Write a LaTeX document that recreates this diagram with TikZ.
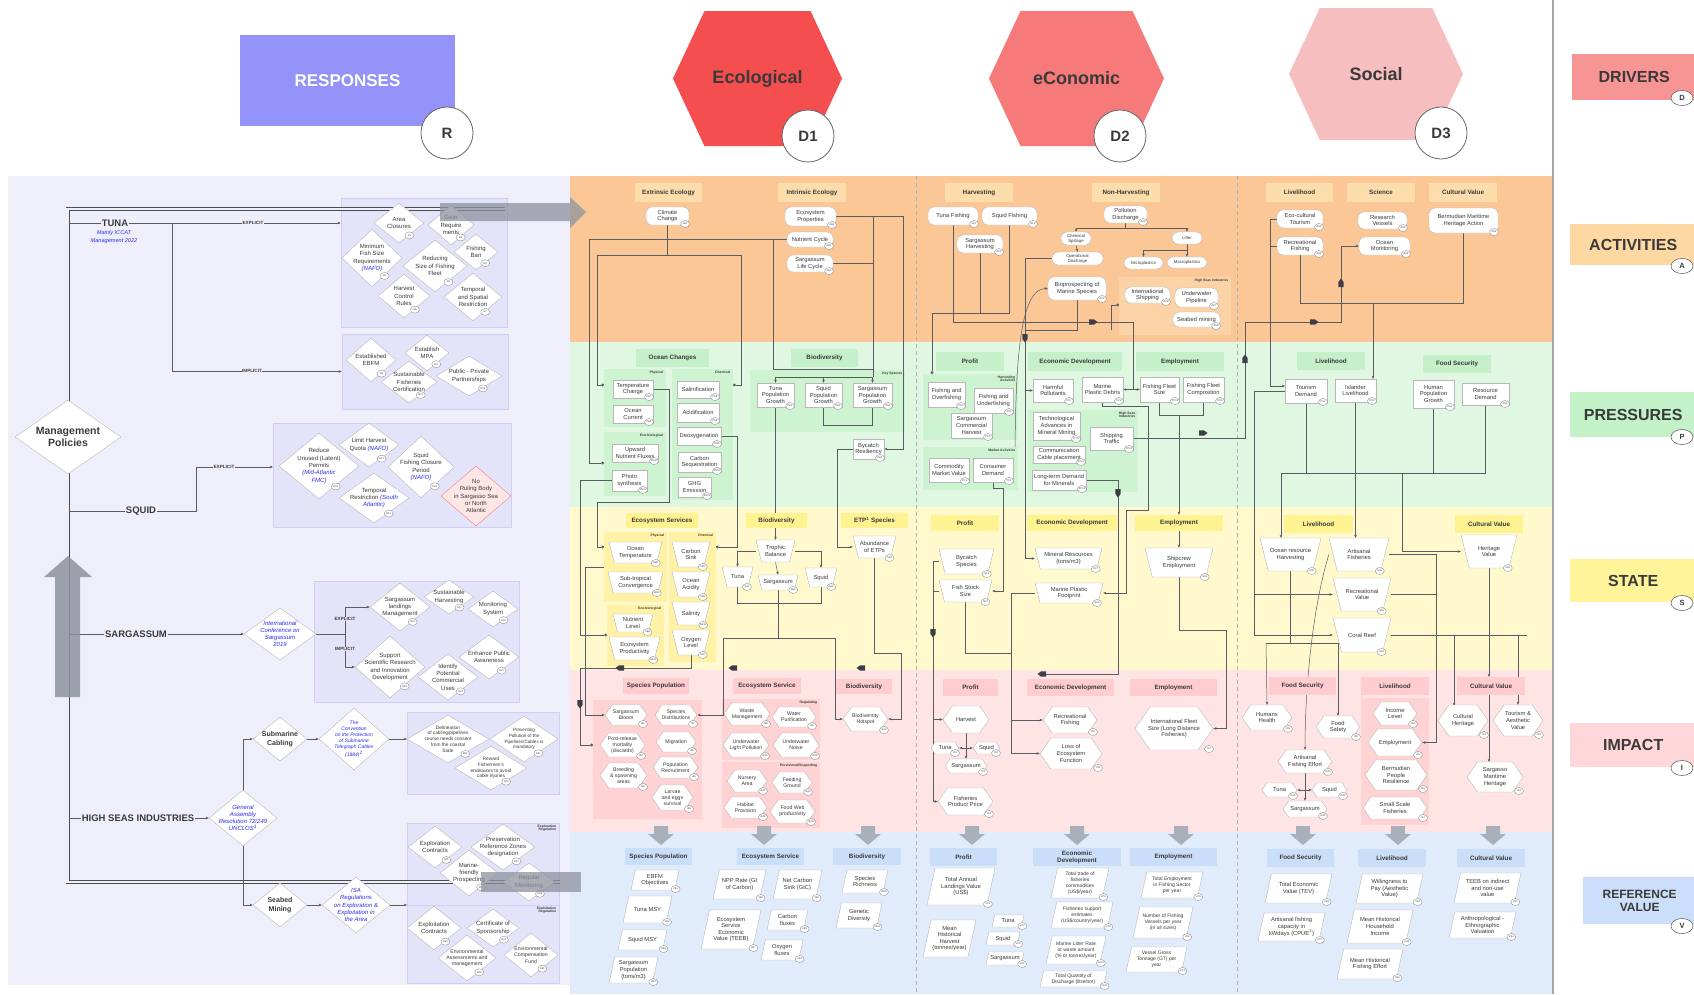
\documentclass[tikz,border=0pt]{standalone}
\usepackage{fontspec}
\setmainfont{Liberation Sans}
\usetikzlibrary{shapes.geometric,shapes.symbols,arrows.meta}
\pgfdeclarelayer{bg}
\pgfdeclarelayer{lines}
\pgfsetlayers{bg,lines,main}
\definecolor{tx}{HTML}{3A3A3A}
\definecolor{lineg}{HTML}{5A5C64}
\definecolor{busc}{HTML}{3C3F48}
\definecolor{bordc}{HTML}{B8B8B8}
\definecolor{tagc}{HTML}{8A8A8A}
\definecolor{blu}{HTML}{2B2BE8}
\definecolor{resp}{HTML}{9393F9}
\definecolor{ecohex}{HTML}{F44E4E}
\definecolor{conhex}{HTML}{F77A7A}
\definecolor{sochex}{HTML}{F6BEBE}
\definecolor{actband}{HTML}{FBC796}
\definecolor{acthdr}{HTML}{FDDDAB}
\definecolor{actgrp}{HTML}{FCD3A6}
\definecolor{preband}{HTML}{E0F8E1}
\definecolor{prehdr}{HTML}{C5F0C9}
\definecolor{pregrp}{HTML}{CDF3D0}
\definecolor{staband}{HTML}{FFF9CD}
\definecolor{stahdr}{HTML}{FFF290}
\definecolor{stagrp}{HTML}{FFF2A6}
\definecolor{impband}{HTML}{FFE4E5}
\definecolor{imphdr}{HTML}{FFCDCF}
\definecolor{impgrp}{HTML}{FFD2D3}
\definecolor{refband}{HTML}{E0ECFB}
\definecolor{refhdr}{HTML}{CADDF9}
\definecolor{lav}{HTML}{EFEFFC}
\definecolor{lavbox}{HTML}{E3E3FA}
\definecolor{lavbd}{HTML}{CFCFF2}
\definecolor{arrg}{HTML}{8E929E}
\definecolor{darrc}{HTML}{ABAFBA}
\definecolor{drvc}{HTML}{F79595}
\definecolor{actc}{HTML}{FDD8A2}
\definecolor{prec}{HTML}{C3F1C8}
\definecolor{stac}{HTML}{FFF49A}
\definecolor{impc}{HTML}{FFD6D9}
\definecolor{refc}{HTML}{CCDFFA}
\definecolor{pinkd}{HTML}{FFE6E6}
\definecolor{redd}{HTML}{F08080}
\tikzset{
 txt/.style={inner sep=0pt, align=center, font=\fontsize{5.8}{6.6}\selectfont, text=tx},
 tstyle/.style={},
 dtxt/.style={inner sep=0pt, align=center, font=\fontsize{6}{7.4}\selectfont, text=tx},
 tagst/.style={ellipse, draw=tagc, fill=white, line width=0.35pt, inner sep=0pt, minimum width=9pt, minimum height=7pt, font=\fontsize{2.5}{2.5}\selectfont, text=tx},
 pill/.style={rectangle, rounded corners=6pt, draw=bordc, fill=white, line width=0.4pt, inner sep=0pt},
 rbx/.style={rectangle, draw=bordc, fill=white, line width=0.4pt, inner sep=0pt},
 shpline/.style={draw=bordc, fill=white, line width=0.4pt},
 hexa/.style={signal, signal to=east and west, signal pointer angle=110, draw=bordc, fill=white, line width=0.4pt, inner sep=0pt},
 diam/.style={diamond, draw=bordc, fill=white, line width=0.4pt, inner sep=0pt},
 grp/.style={rectangle, inner sep=0pt},
 glab/.style={inner sep=0.5pt, align=right, font=\fontsize{3.4}{3.8}\selectfont\bfseries, text=tx},
 hdr/.style={rectangle, inner sep=0pt, align=center, font=\fontsize{6.3}{7}\selectfont\bfseries, text=tx},
 ln/.style={draw=lineg, line width=0.5pt},
 ar/.style={draw=lineg, line width=0.5pt, -{Stealth[length=3.2pt,width=2.6pt]}},
 dotar/.style={draw=lineg, line width=0.5pt, -{Circle[length=2.8pt]}},
 bluet/.style={text=blu, font=\fontsize{6}{7.2}\selectfont\itshape},
 boldt/.style={font=\fontsize{7}{8.4}\selectfont\bfseries},
 lbl/.style={fill=lav, inner sep=1pt, font=\fontsize{9.5}{10}\selectfont\bfseries, text=tx},
 xl/.style={fill=lav, inner sep=0.6pt, font=\fontsize{4.6}{5}\selectfont\bfseries, text=tx},
 bigc/.style={circle, draw=gray!80!black, fill=white, line width=0.8pt, minimum size=52pt, inner sep=0pt, font=\fontsize{15}{15}\selectfont\bfseries, text=tx},
 rlab/.style={rectangle, inner sep=0pt, anchor=west, font=\fontsize{16}{17}\selectfont\bfseries, text=tx},
 rc/.style={ellipse, draw=gray!80!black, fill=white, line width=0.6pt, minimum width=22pt, minimum height=15pt, inner sep=0pt, font=\fontsize{7.5}{7.5}\selectfont\bfseries, text=tx},
 trunk/.style={draw=gray!60!black, line width=0.8pt, double=lav, double distance=2.4pt},
 hexhead/.style={signal, signal to=east and west, signal pointer angle=130, inner sep=0pt, font=\fontsize{18}{18}\selectfont\bfseries, text=tx}
}
\newcommand\mkshp[8][rbx]{%
 \node[#1,minimum width={#5-#3},minimum height={#6-#4}] (#2) at ({(#3+#5)/2},{(#4+#6)/2}) {};
 \node[txt,tstyle] (#2x) at (#2.center) {#7};
 \if\relax\detokenize{#8}\relax\else\node[tagst] (#2t) at ({#5-4},{#6-1}) {#8};\fi}
\newcommand\mktrap[7]{%
 \path[shpline] (#2,#3) -- (#4,#3) -- ({#4-0.25*(#5-#3)},#5) -- ({#2+0.25*(#5-#3)},#5) -- cycle;
 \node[inner sep=0pt,minimum width={#4-#2},minimum height={#5-#3}] (#1) at ({(#2+#4)/2},{(#3+#5)/2}) {};
 \node[txt,tstyle] (#1x) at (#1.center) {#6};
 \if\relax\detokenize{#7}\relax\else\node[tagst] (#1t) at ({#4-0.25*(#5-#3)-1},#5) {#7};\fi}
\newcommand\mkpara[7]{%
 \path[shpline] ({#2+0.22*(#5-#3)},#3) -- (#4,#3) -- ({#4-0.22*(#5-#3)},#5) -- (#2,#5) -- cycle;
 \node[inner sep=0pt,minimum width={#4-#2},minimum height={#5-#3}] (#1) at ({(#2+#4)/2},{(#3+#5)/2}) {};
 \node[txt,tstyle] (#1x) at (#1.center) {#6};
 \if\relax\detokenize{#7}\relax\else\node[tagst] (#1t) at ({#4-0.22*(#5-#3)+1},{#5-1}) {#7};\fi}
\newcommand\mkhdr[7][acthdr]{%
 \node[hdr,fill=#1,minimum width={#5-#3},minimum height={#6-#4}] (#2) at ({(#3+#5)/2},{(#4+#6)/2}) {#7};}
\newcommand\mkgrp[7][pregrp]{%
 \node[grp,fill=#1,minimum width={#5-#3},minimum height={#6-#4}] (#2) at ({(#3+#5)/2},{(#4+#6)/2}) {};
 \node[glab,anchor=north east] (#2l) at ({#5-2},{#4+1}) {#7};}
\newcommand\mkdia[8][]{%
 \node[diam,minimum width={2*(#5)},minimum height={2*(#6)}] (#2) at (#3,#4) {};
 \node[dtxt,#1] (#2x) at (#2.center) {#7};
 \if\relax\detokenize{#8}\relax\else\node[tagst] (#2t) at ({#3+0.42*#5},{#4+0.62*#6}) {#8};\fi}
\newcommand\mkdarr[1]{%
 \fill[darrc] ({#1-7},826) -- ({#1+7},826) -- ({#1+7},834) -- ({#1+13},834) -- (#1,845) -- ({#1-13},834) -- ({#1-7},834) -- cycle;}
% small dark arrow-shaped markers on connectors: x, y, direction angle (0 right, 90 up, 180 left, -90 down)
\newcommand\mkbus[3]{%
 \fill[busc, rotate around={#3:(#1,#2)}] ({#1-4},{#2-2.6}) -- ({#1+1},{#2-2.6}) -- ({#1+4.5},#2) -- ({#1+1},{#2+2.6}) -- ({#1-4},{#2+2.6}) -- cycle;}
\begin{document}
\begin{tikzpicture}[x=1pt,y=-1pt]
\useasboundingbox (0,0) rectangle (1694,994);
\begin{pgfonlayer}{bg}
\fill[white] (0,0) rectangle (1694,994);
\fill[lav] (8,176) rectangle (570,985);
\fill[actband] (570,176) rectangle (1553,342);
\fill[preband] (570,342) rectangle (1553,507);
\fill[staband] (570,507) rectangle (1553,670);
\fill[impband] (570,670) rectangle (1553,832);
\fill[refband] (570,832) rectangle (1553,994);
\draw[gray!60, dash pattern=on 4pt off 3pt, line width=0.5pt] (916,176) -- (916,994);
\draw[gray!60, dash pattern=on 4pt off 3pt, line width=0.5pt] (1237,176) -- (1237,994);
\draw[gray!70, line width=1.3pt] (1553,0) -- (1553,994);
\mkgrp{gPh}{604}{369}{666}{427}{Physical}
\mkgrp{gCh}{672}{369}{733}{500}{Chemical}
\mkgrp{gEb}{604}{432}{666}{496}{Eco-biological}
\mkgrp{gKS}{750}{370}{905}{432}{Key Species}
\mkgrp[stagrp]{gPh2}{604}{532}{667}{602}{Physical}
\mkgrp[stagrp]{gCh2}{669}{532}{716}{662}{Chemical}
\mkgrp[stagrp]{gEb2}{607}{605}{664}{666}{Eco-biological}
\mkgrp[impgrp]{gSP}{593}{700}{702}{819}{}
\mkgrp[impgrp]{gReg}{722}{699}{820}{760}{Regulating}
\mkgrp[impgrp]{gPS}{722}{762}{820}{828}{Provisional/Supporting}
\mkgrp[actgrp]{gHSI}{1119}{277}{1231}{335}{High Seas Industries}
\mkgrp{gHA}{923}{374}{1018}{440}{Harvesting\\Activities}
\mkgrp{gMA}{923}{447}{1018}{490}{Market Activities}
\mkgrp{gHS2}{1028}{410}{1138}{492}{High Seas\\Industries}
\mkgrp[impgrp]{gLi}{1361}{698}{1429}{825}{}
\begin{scope}[grp/.append style={draw=lavbd, line width=0.5pt}]
\mkgrp[lavbox]{gTE}{341}{198}{507}{327}{}
\mkgrp[lavbox]{gTI}{342}{334}{508}{409}{}
\mkgrp[lavbox]{gSq}{273}{423}{511}{527}{}
\mkgrp[lavbox]{gSa}{314}{581}{519}{702}{}
\mkgrp[lavbox]{gSC}{407}{712}{559}{794}{}
\mkgrp[lavbox]{gEx}{407}{823}{559}{905}{Exploration\\Regulation}
\mkgrp[lavbox]{gEt}{407}{905}{559}{983}{Exploitation\\Regulation}
\end{scope}
\end{pgfonlayer}

% ===== header =====
\node[fill=resp, minimum width=215pt, minimum height=91pt, inner sep=0pt, font=\fontsize{17}{17}\selectfont\bfseries, text=white] (respbox) at (347.5,80.5) {RESPONSES};
\node[bigc] (rcirc) at (447,133) {R};
\node[hexhead, fill=ecohex, minimum width=169pt, minimum height=135pt] (hexE) at (757.5,78.5) {Ecological};
\node[bigc] (d1) at (808,136) {D1};
\node[hexhead, fill=conhex, minimum width=175pt, minimum height=135pt] (hexC) at (1076.5,78.5) {eConomic};
\node[bigc] (d2) at (1120,136) {D2};
\node[hexhead, fill=sochex, minimum width=174pt, minimum height=132pt] (hexS) at (1376,74) {Social};
\node[bigc] (d3) at (1441,133) {D3};

% ===== right labels =====
\node[rlab, fill=drvc, minimum width=124pt, minimum height=46pt] (lD) at (1572,77) {DRIVERS};
\node[rc] (lDc) at (1682,98) {D};
\node[rlab, fill=actc, minimum width=126pt, minimum height=41pt] (lA) at (1570,244.5) {ACTIVITIES};
\node[rc] (lAc) at (1682,266) {A};
\node[rlab, fill=prec, minimum width=126pt, minimum height=45pt] (lP) at (1570,414.5) {PRESSURES};
\node[rc] (lPc) at (1682,437) {P};
\node[rlab, fill=stac, minimum width=126pt, minimum height=43pt] (lS) at (1570,580.5) {STATE};
\node[rc] (lSc) at (1682,603) {S};
\node[rlab, fill=impc, minimum width=126pt, minimum height=44pt] (lI) at (1570,745) {IMPACT};
\node[rc] (lIc) at (1682,768) {I};
\node[rlab, fill=refc, minimum width=113pt, minimum height=47pt, align=center, font=\fontsize{12}{13}\selectfont\bfseries] (lV) at (1583,900.5) {REFERENCE\\VALUE};
\node[rc] (lVc) at (1682,926) {V};

% ===== ECOLOGICAL =====
\mkhdr{hEE}{635}{183}{702}{202}{Extrinsic Ecology}
\mkhdr{hIE}{778}{183}{846}{202}{Intrinsic Ecology}
\mkshp[pill]{ae1}{646}{207}{689}{225}{Climate\\Change}{AE1}
\mkshp[pill]{ae2}{785}{207}{836}{226}{Ecosystem\\Properties}{AE2}
\mkshp[pill]{ae3}{787}{232}{833}{247}{Nutrient Cycle}{AE3}
\mkshp[pill]{ae4}{787}{255}{833}{272}{Sargassum\\Life Cycle}{AE4}

\mkhdr[prehdr]{hOC}{636}{349}{709}{367}{Ocean Changes}
\mkhdr[prehdr]{hBD}{791}{349}{858}{367}{Biodiversity}
\mkshp{pe7}{613}{380}{653}{398}{Temperature\\Change}{PE7}
\mkshp{pe9}{613}{405}{653}{423}{Ocean\\Current}{PE9}
\mkshp{pe10}{612}{444}{658}{462}{Upward\\Nutrient Fluxes}{PE10}
\mkshp{pe11}{612}{470}{647}{491}{Photo\\synthesis}{PE11}
\mkshp{pe8}{677}{381}{719}{398}{Salinification}{PE8}
\mkshp{pe6}{677}{403}{719}{422}{Acidification}{PE6}
\mkshp{pe5}{677}{427}{721}{445}{Deoxygenation}{PE5}
\mkshp{pe12}{678}{452}{721}{472}{Carbon\\Sequestration}{PE12}
\mkshp{pe13}{678}{477}{711}{497}{GHG\\Emission}{PE13}
\mkshp{pe1}{757}{383}{794}{407}{Tuna\\Population\\Growth}{PE1}
\mkshp{pe2}{805}{383}{842}{407}{Squid\\Population\\Growth}{PE2}
\mkshp{pe3}{853}{383}{892}{407}{Sargassum\\Population\\Growth}{PE3}
\mkshp{pe4}{853}{439}{884}{459}{Bycatch\\Resiliency}{PE4}

\mkhdr[stahdr]{hES}{626}{513}{698}{528}{Ecosystem Services}
\mkhdr[stahdr]{hBD2}{746}{513}{807}{528}{Biodiversity}
\mkhdr[stahdr]{hETP}{841}{513}{908}{528}{ETP\textsuperscript{1} Species}
\mktrap{se6}{609}{542}{662}{563}{Ocean\\Temperature}{SE6}
\mktrap{se12}{608}{572}{663}{593}{Sub-tropical\\Convergence}{SE12}
\mktrap{se5}{672}{542}{710}{567}{Carbon\\Sink}{SE5}
\mktrap{se9}{672}{572}{710}{597}{Ocean\\Acidity}{SE9}
\mktrap{se10}{672}{602}{710}{625}{Salinity}{SE10}
\mktrap{se7}{672}{630}{710}{655}{Oxygen\\Level}{SE7}
\mktrap{se8}{613}{614}{653}{632}{Nutrient\\Level}{SE8}
\mktrap{se11}{609}{637}{660}{660}{Ecosystem\\Productivity}{SE11}
\mktrap{tb}{756}{540}{795}{562}{Trophic\\Balance}{}
\mktrap{se1}{722}{567}{753}{587}{Tuna}{SE1}
\mktrap{se3}{758}{575}{798}{590}{Sargassum}{SE3}
\mktrap{se2}{805}{568}{837}{587}{Squid}{SE2}
\mktrap{se4}{853}{536}{896}{558}{Abundance\\of ETPs}{SE4}

\mkhdr[imphdr]{hSP}{623}{678}{689}{694}{Species Population}
\mkhdr[imphdr]{hESv}{733}{678}{801}{694}{Ecosystem Service}
\mkhdr[imphdr]{hBD3}{836}{679}{892}{694}{Biodiversity}
\begin{scope}[tstyle/.style={font=\fontsize{5.2}{5.9}\selectfont}]
\mkshp[hexa]{ie1}{605}{705}{647}{725}{Sargassum\\Bloom}{IE1}
\mkshp[hexa]{ie7}{655}{705}{697}{725}{Species\\Distributions}{IE7}
\mkshp[hexa]{ie3}{600}{733}{645}{757}{Post-release\\mortality\\(discards)}{IE3}
\mkshp[hexa]{ie5}{656}{732}{696}{752}{Migration}{IE5}
\mkshp[hexa]{ie2}{600}{763}{647}{788}{Breeding\\\& spawning\\areas}{IE2}
\mkshp[hexa]{ie4}{653}{757}{698}{778}{Population\\Recruitment}{IE4}
\mkshp[hexa]{ie6}{652}{785}{693}{810}{Larvae\\and eggs\\survival}{IE6}
\mkshp[hexa]{ie8}{724}{703}{770}{725}{Waste\\Management}{IE8}
\mkshp[hexa]{ie9}{772}{707}{816}{727}{Water\\Purification}{IE9}
\mkshp[hexa]{ie15}{723}{733}{769}{757}{Underwater\\Light Pollution}{IE15}
\mkshp[hexa]{ie14}{773}{733}{819}{757}{Underwater\\Noise}{IE14}
\mkshp[hexa]{ie12}{727}{770}{767}{792}{Nursery\\Area}{IE12}
\mkshp[hexa]{ie13}{772}{772}{812}{793}{Feeding\\Ground}{IE13}
\mkshp[hexa]{ie11}{724}{797}{767}{818}{Habitat\\Provision}{IE11}
\mkshp[hexa]{ie16}{770}{800}{815}{823}{Food Web\\productivity}{IE16}
\mkshp[hexa]{ie10}{843}{707}{888}{731}{Biodiversity\\Hotspot}{IE10}
\end{scope}

\mkdarr{661}\mkdarr{764}\mkdarr{868}\mkdarr{972}\mkdarr{1077}\mkdarr{1181}\mkdarr{1303}\mkdarr{1398}\mkdarr{1493}
\mkhdr[refhdr]{hSP4}{625}{848}{692}{865}{Species Population}
\mkhdr[refhdr]{hESv4}{737}{848}{804}{865}{Ecosystem Service}
\mkhdr[refhdr]{hBD4}{833}{848}{901}{865}{Biodiversity}
\mkpara{ve1}{631}{870}{679}{890}{EBFM\\Objectives}{VE1}
\mkpara{ve2}{623}{896}{672}{923}{Tuna MSY}{VE2}
\mkpara{ve3}{618}{930}{667}{950}{Squid MSY}{VE3}
\mkpara{ve4}{609}{957}{658}{983}{Sargassum\\Population\\(tons/m3)}{VE4}
\mkpara{ve5}{713}{870}{766}{899}{NPP Rate (Gt\\of Carbon)}{VE5}
\mkpara{ve6}{773}{870}{822}{899}{Net Carbon\\Sink (GtC)}{VE6}
\mkpara{ve7}{701}{910}{761}{949}{Ecosystem\\Service\\Economic\\Value (TEEB)}{VE7}
\mkpara{ve8}{767}{910}{808}{930}{Carbon\\fluxes}{VE8}
\mkpara{ve9}{761}{940}{803}{960}{Oxygen\\fluxes}{VE9}
\mkpara{ve10}{842}{870}{888}{893}{Species\\Richness}{VE10}
\mkpara{ve11}{836}{903}{882}{928}{Genetic\\Diversity}{VE11}

% ===== ECONOMIC =====
\mkhdr{hHa}{945}{183}{1013}{202}{Harvesting}
\mkhdr{hNH}{1092}{183}{1160}{202}{Non-Harvesting}
\mkshp[pill]{ac1}{928}{207}{978}{225}{Tuna Fishing}{AC1}
\mkshp[pill]{ac2}{982}{207}{1037}{225}{Squid Fishing}{AC2}
\mkshp[pill]{ac3}{957}{235}{1003}{253}{Sargassum\\Harvesting}{AC3}
\mkshp[pill]{ac4}{1104}{206}{1147}{223}{Pollution\\Discharge}{AC4}
\begin{scope}[tstyle/.style={font=\fontsize{4.3}{4.9}\selectfont}]
\mkshp[pill]{cs}{1061}{232}{1091}{245}{Chemical\\Spillage}{}
\mkshp[pill]{lit}{1172}{232}{1202}{244}{Litter}{}
\mkshp[pill]{od}{1052}{252}{1103}{265}{Operational\\Discharge}{}
\mkshp[pill]{mic}{1124}{257}{1163}{269}{Microplastics}{}
\mkshp[pill]{mac}{1167}{257}{1207}{268}{Macroplastics}{}
\end{scope}
\mkshp[pill]{ac5}{1048}{277}{1106}{300}{Bioprospecting of\\Marine Species}{AC5}
\mkshp[pill]{ac6}{1125}{287}{1170}{303}{International\\Shipping}{AC6}
\mkshp[pill]{ac7}{1175}{288}{1218}{307}{Underwater\\Pipeline}{AC7}
\mkshp[pill]{ac8}{1173}{312}{1220}{327}{Seabed mining}{AC8}

\mkhdr[prehdr]{hPr}{936}{352}{1004}{371}{Profit}
\mkhdr[prehdr]{hED}{1028}{352}{1122}{371}{Economic Development}
\mkhdr[prehdr]{hEm}{1136}{352}{1224}{371}{Employment}
\mkshp{pc3}{928}{382}{965}{407}{Fishing and\\Overfishing}{PC3}
\mkshp{pc4}{974}{388}{1013}{413}{Fishing and\\Underfishing}{PC4}
\mkshp{pc5}{951}{413}{992}{438}{Sargassum\\Commercial\\Harvest}{PC5}
\mkshp{pc2}{929}{458}{969}{482}{Commodity\\Market Value}{PC2}
\mkshp{pc1}{973}{458}{1013}{482}{Consumer\\Demand}{PC1}
\mkshp{pc7}{1033}{379}{1073}{402}{Harmful\\Pollutants}{PC7}
\mkshp{pc8}{1082}{377}{1123}{402}{Marine\\Plastic Debris}{PC8}
\mkshp{pc9}{1033}{412}{1080}{440}{Technological\\Advances in\\Mineral Mining}{PC9}
\mkshp{pc10}{1090}{427}{1133}{450}{Shipping\\Traffic}{PC10}
\mkshp{pc11}{1033}{446}{1085}{463}{Communication\\Cable placement}{PC11}
\mkshp{pc12}{1032}{470}{1086}{490}{Long-term Demand\\for Minerals}{PC12}
\mkshp{pc13}{1140}{377}{1179}{402}{Fishing Fleet\\Size}{PC13}
\mkshp{pc6}{1183}{377}{1224}{402}{Fishing Fleet\\Composition}{PC6}

\mkhdr[stahdr]{hPr2}{931}{515}{999}{531}{Profit}
\mkhdr[stahdr]{hED2}{1027}{515}{1117}{531}{Economic Development}
\mkhdr[stahdr]{hEm2}{1135}{515}{1223}{531}{Employment}
\mktrap{sc3}{939}{549}{994}{574}{Bycatch\\Species}{SC3}
\mktrap{sc2}{939}{580}{992}{602}{Fish Stock\\Size}{SC2}
\mktrap{sc7}{1035}{548}{1102}{569}{Mineral Resources\\(tons/m3)}{SC7}
\mktrap{sc8}{1035}{583}{1103}{603}{Marine Plastic\\Footprint}{SC8}
\mktrap{sc4}{1145}{548}{1213}{577}{Shipcrew\\Employment}{SC4}

\mkhdr[imphdr]{hPr3}{943}{679}{998}{696}{Profit}
\mkhdr[imphdr]{hED3}{1027}{679}{1114}{696}{Economic Development}
\mkhdr[imphdr]{hEm3}{1130}{679}{1217}{696}{Employment}
\mkshp[hexa]{harv}{943}{706}{989}{733}{Harvest}{}
\mkshp[hexa]{ic1}{931}{742}{959}{754}{Tuna}{IC1}
\mkshp[hexa]{ic2}{973}{742}{1000}{754}{Squid}{IC2}
\mkshp[hexa]{ic3}{945}{759}{987}{773}{Sargassum}{IC3}
\mkshp[hexa]{ic4}{938}{788}{993}{815}{Fisheries\\Product Price}{IC4}
\mkshp[hexa]{ic5}{1043}{707}{1097}{733}{Recreational\\Fishing}{IC5}
\mkshp[hexa]{ic6}{1040}{738}{1102}{769}{Loss of\\Ecosystem\\Function}{IC6}
\mkshp[hexa]{ic7}{1135}{707}{1213}{750}{International Fleet\\Size (Long Distance\\Fisheries)}{IC7}

\mkhdr[refhdr]{hPr4}{930}{848}{997}{866}{Profit}
\mkhdr[refhdr]{hED4}{1033}{848}{1121}{866}{Economic\\Development}
\mkhdr[refhdr]{hEm4}{1130}{848}{1217}{866}{Employment}
\mkpara{vc1}{927}{868}{995}{905}{Total Annual\\Landings Value\\(US\$)}{VC1}
\mkpara{mhh}{923}{920}{976}{957}{Mean\\Historical\\Harvest\\(tonnes/year)}{}
\mkpara{vc2}{992}{915}{1024}{927}{Tuna}{VC2}
\mkpara{vc3}{986}{932}{1020}{945}{Squid}{VC3}
\mkpara{vc4}{986}{952}{1024}{965}{Sargassum}{VC4}
\begin{scope}[tstyle/.style={font=\fontsize{5}{5.9}\selectfont}]
\mkpara{vc8}{1051}{868}{1109}{898}{Total trade of\\fisheries\\commodities\\(US\$/year)}{VC8}
\mkpara{vc9}{1051}{902}{1113}{928}{Fisheries support\\estimates\\(US\$/country/year)}{VC9}
\mkpara{vc10}{1046}{936}{1106}{964}{Marine Litter Rate\\or waste amount\\(\% or tonnes/year)}{VC10}
\mkpara{vc11}{1040}{971}{1107}{987}{Total Quantity of\\Discharge (litre/nm)}{VC11}
\mkpara{vc5}{1141}{872}{1203}{898}{Total Employment\\in Fishing Sector\\per year}{VC5}
\mkpara{vc6}{1133}{907}{1193}{938}{Number of Fishing\\Vessels per year\\(in all sizes)}{VC6}
\mkpara{vc7}{1126}{947}{1187}{972}{Vessel Gross\\Tonnage (GT) per\\year}{VC7}
\end{scope}

% ===== SOCIAL =====
\mkhdr{hLi}{1266}{183}{1333}{202}{Livelihood}
\mkhdr{hSc}{1347}{183}{1415}{202}{Science}
\mkhdr{hCV}{1429}{183}{1497}{202}{Cultural Value}
\mkshp[pill]{as1}{1277}{210}{1323}{228}{Eco-cultural\\Tourism}{AS1}
\mkshp[pill]{as5}{1277}{237}{1323}{255}{Recreational\\Fishing}{AS5}
\mkshp[pill]{as2}{1358}{212}{1407}{229}{Research\\Vessels}{AS2}
\mkshp[pill]{as3}{1359}{237}{1410}{255}{Ocean\\Monitoring}{AS3}
\mkshp[pill]{as4}{1429}{208}{1498}{233}{Bermudian Maritime\\Heritage Action}{AS4}

\mkhdr[prehdr]{hLi2}{1297}{352}{1365}{370}{Livelihood}
\mkhdr[prehdr]{hFS2}{1423}{355}{1491}{373}{Food Security}
\mkshp{ps1}{1285}{379}{1327}{403}{Tourism\\Demand}{PS1}
\mkshp{ps2}{1335}{379}{1376}{402}{Islander\\Livelihood}{PS2}
\mkshp{ps4}{1413}{380}{1454}{408}{Human\\Population\\Growth}{PS4}
\mkshp{ps3}{1462}{383}{1509}{405}{Resource\\Demand}{PS3}

\mkhdr[stahdr]{hLi3}{1284}{515}{1353}{533}{Livelihood}
\mkhdr[stahdr]{hCV3}{1455}{515}{1523}{533}{Cultural Value}
\mktrap{ss5}{1260}{538}{1321}{571}{Ocean resource\\Harvesting}{SS5}
\mktrap{ss1}{1329}{538}{1389}{571}{Artisanal\\Fisheries}{SS1}
\mktrap{ss2}{1333}{578}{1391}{611}{Recreational\\Value}{SS2}
\mktrap{ss3}{1333}{618}{1391}{652}{Coral Reef}{SS3}
\mktrap{ss4}{1461}{535}{1517}{568}{Heritage\\Value}{SS4}

\mkhdr[imphdr]{hFS4}{1269}{677}{1336}{695}{Food Security}
\mkhdr[imphdr]{hLi4}{1361}{677}{1429}{695}{Livelihood}
\mkhdr[imphdr]{hCV4}{1457}{677}{1525}{695}{Cultural Value}
\mkshp[hexa]{is8}{1242}{705}{1292}{730}{Humans\\Health}{IS8}
\mkshp[hexa]{is9}{1316}{716}{1360}{738}{Food\\Safety}{IS9}
\mkshp[hexa]{is4}{1373}{702}{1417}{725}{Income\\Level}{IS4}
\mkshp[hexa]{is5}{1368}{729}{1422}{756}{Employment}{IS5}
\mkshp[hexa]{is6}{1365}{760}{1427}{790}{Bermudian\\People\\Resilience}{IS6}
\mkshp[hexa]{is7}{1363}{797}{1427}{819}{Small Scale\\Fisheries}{IS7}
\mkshp[hexa]{is1}{1438}{705}{1488}{736}{Cultural\\Heritage}{IS1}
\mkshp[hexa]{is2}{1493}{705}{1543}{736}{Tourism \&\\Aesthetic\\Value}{IS2}
\mkshp[hexa]{is3}{1467}{762}{1523}{792}{Sargasso\\Maritime\\Heritage}{IS3}
\mkshp[hexa]{is10}{1278}{750}{1332}{773}{Artisanal\\Fishing Effort}{IS10}
\mkshp[hexa]{is11}{1262}{783}{1297}{797}{Tuna}{IS11}
\mkshp[hexa]{is12}{1312}{783}{1347}{797}{Squid}{IS12}
\mkshp[hexa]{is13}{1283}{801}{1327}{817}{Sargassum}{IS13}

\mkhdr[refhdr]{hFS5}{1267}{849}{1334}{867}{Food Security}
\mkhdr[refhdr]{hLi5}{1358}{849}{1426}{867}{Livelihood}
\mkhdr[refhdr]{hCV5}{1457}{849}{1525}{867}{Cultural Value}
\mkpara{vs5}{1265}{874}{1332}{903}{Total Economic\\Value (TEV)}{VS5}
\mkpara{vs7}{1258}{913}{1325}{941}{Artisanal fishing\\capacity in\\kWdays (CPUE\textsuperscript{2})}{VS7}
\mkpara{vs2}{1356}{874}{1423}{903}{Willingness to\\Pay (Aesthetic\\Value)}{VS2}
\mkpara{vs3}{1347}{910}{1413}{943}{Mean Historical\\Household\\Income}{VS3}
\mkpara{vs6}{1337}{949}{1403}{979}{Mean Historical\\Fishing Effort}{VS6}
\mkpara{vs1}{1454}{873}{1521}{903}{TEEB on indirect\\and non-use\\value}{VS1}
\mkpara{vs4}{1449}{912}{1516}{938}{Anthropological -\\Ethnographic\\Valuation}{VS4}

% ===== LEFT PANEL =====
\mkdia{r1}{399}{223}{25}{20}{Area\\Closures}{R1}
\mkdia{r2}{451}{225}{23}{20}{Gear\\Require\\ments}{R2}
\mkdia{r3}{372}{258}{30}{29}{Minimum\\Fish Size\\Requirements\\\textcolor{blu}{\textit{(NAFO)}}}{R3}
\mkdia{r4}{476}{252}{22}{18}{Fishing\\Ban}{R4}
\mkdia{r5}{435}{266}{32}{26}{Reducing\\Size of Fishing\\Fleet}{R5}
\mkdia{r6}{404}{296}{26}{22}{Harvest\\Control\\Rules}{R6}
\mkdia{r7}{473}{297}{29}{24}{Temporal\\and Spatial\\Restriction}{R7}
\mkdia{r8}{371}{360}{25}{22}{Established\\EBFM}{R8}
\mkdia{r9}{427}{353}{22}{18}{Establish\\MPA}{R9}
\mkdia{r11}{409}{382}{28}{21}{Sustainable\\Fisheries\\Certification}{R11}
\mkdia{r10}{469}{376}{33}{20}{Public - Private\\Partnerships}{R10}
\mkdia[font=\fontsize{10.5}{12.5}\selectfont\bfseries]{mp}{68}{437}{53}{37}{Management\\Policies}{}
\mkdia{r14}{319}{466}{40}{33}{Reduce\\Unused (Latent)\\Permits\\\textcolor{blu}{\textit{(Mid-Atlantic}}\\\textcolor{blu}{\textit{FMC)}}}{R14}
\mkdia{r12}{369}{445}{30}{22}{Limit Harvest\\Quota \textcolor{blu}{\textit{(NAFO)}}}{R12}
\mkdia{r15}{421}{467}{33}{31}{Squid\\Fishing Closure\\Period\\\textcolor{blu}{\textit{(NAFO)}}}{R15}
\mkdia{r13}{374}{498}{35}{25}{Temporal\\Restriction \textcolor{blu}{\textit{(South}}\\\textcolor{blu}{\textit{Atlantic)}}}{R13}
\begin{scope}[diam/.append style={fill=pinkd, draw=redd}]
\mkdia{nrb}{476}{496}{35}{30}{No\\Ruling Body\\in Sargasso Sea\\or North\\Atlantic}{}
\end{scope}
\mkdia[bluet]{icS}{280}{634}{36}{26}{International\\Conference on\\Sargassum\\2019}{}
\mkdia{r16}{400}{607}{30}{24}{Sargassum\\landings\\Management}{R16}
\mkdia{r17}{449}{597}{25}{17}{Sustainable\\Harvesting}{R17}
\mkdia{r18}{493}{609}{25}{18}{Monitoring\\System}{R18}
\mkdia{r19}{390}{667}{35}{31}{Support\\Scientific Research\\and Innovation\\Development}{R19}
\mkdia{r20}{448}{677}{30}{23}{Identify\\Potential\\Commercial\\Uses}{R20}
\mkdia{r21}{489}{657}{30}{22}{Enhance Public\\Awareness}{R21}
\mkdia[bluet]{ga}{243}{818}{34}{28}{General\\Assembly\\Resolution 72/249\\UNCLOS\textsuperscript{1}}{}
\mkdia[boldt]{sc}{280}{739}{27}{22}{Submarine\\Cabling}{}
\mkdia[bluet,font=\fontsize{5}{6.2}\selectfont\itshape]{cpt}{354}{739}{35}{31}{The\\Convention\\on the Protection\\of Submarine\\Telegraph Cables\\(1884)\textsuperscript{1}}{}
\mkdia[font=\fontsize{4.8}{5.8}\selectfont]{r22}{448}{739}{41}{24}{Delineation\\of cabling/pipelines\\course needs consent\\from the coastal\\State}{R22}
\mkdia[font=\fontsize{4.6}{5.6}\selectfont]{r24}{524}{739}{34}{23}{Preventing\\Pollution of the\\Pipelines/Cables is\\mandatory}{R24}
\mkdia[font=\fontsize{4.8}{5.8}\selectfont]{r23}{491}{768}{36}{22}{Reward\\Fishermen's\\endeavors to avoid\\cable injuries}{R23}
\mkdia[boldt]{sm}{280}{905}{27}{22}{Seabed\\Mining}{}
\mkdia[bluet]{isa}{356}{905}{34}{28}{ISA\\Regulations\\on Exploration \&\\Exploitation in\\the Area}{}
\mkdia{r25}{435}{847}{27}{21}{Exploration\\Contracts}{R25}
\mkdia{r27}{503}{847}{32}{23}{Preservation\\Reference Zones\\designation}{R27}
\mkdia{r26}{469}{873}{29}{23}{Marine-\\friendly\\Prospecting}{R26}
\mkdia{r28}{529}{882}{26}{19}{Regular\\Monitoring}{R28}
\mkdia{r29}{434}{928}{27}{22}{Exploitation\\Contracts}{R29}
\mkdia{r31}{493}{928}{26}{19}{Certificate of\\Sponsorship}{R31}
\mkdia[font=\fontsize{5.2}{6.2}\selectfont]{r30}{467}{958}{29}{23}{Environmental\\Assessments and\\management}{R30}
\mkdia[font=\fontsize{5.2}{6.2}\selectfont]{r32}{531}{955}{27}{22}{Environmental\\Compensation\\Fund}{R32}

\node[lbl] (tuna) at (115,223) {TUNA};
\node[inner sep=0pt, align=center, text=blu, font=\fontsize{5.6}{7.6}\selectfont\itshape] (iccat) at (114,237) {Mainly ICCAT\\Management 2022};
\node[xl] (ex1) at (253,223) {EXPLICIT};
\node[xl] (im1) at (252,370.5) {IMPLICIT};
\node[lbl] (squid) at (141,511) {SQUID};
\node[xl] (ex2) at (224,467) {EXPLICIT};
\node[lbl] (sarg) at (136,634) {SARGASSUM};
\node[xl, fill=lavbox] (ex3) at (345,619) {EXPLICIT};
\node[xl, fill=lavbox] (im3) at (345,649) {IMPLICIT};
\node[lbl] (hsi) at (138,818) {HIGH SEAS INDUSTRIES};

% ===== CONNECTORS =====
\begin{pgfonlayer}{lines}
\draw[trunk] (505,209) -- (67.5,209) -- (67.5,882) -- (560,882);
\draw[ar] (69,223) -- (gTE.west |- tuna);
\draw[ar] (172,223) |- (gTI.west);
\draw[ar] (69,511) -- (196,511) |- (273,467);
\draw[ar] (69,634) -- (icS.west);
\draw[ln] (icS.east) -- (345,634);
\draw[ar] (345,634) |- (r16.west);
\draw[ar] (345,634) |- (r19.west);
\draw[ar] (69,818) -- (ga.west);
\draw[ar] (ga.north) |- (sc.west);
\draw[ar] (sc.east) -- (cpt.west);
\draw[ar] (cpt.east) -- (407,739);
\draw[ar] (ga.south) |- (sm.west);
\draw[ar] (sm.east) -- (isa.west);
\draw[ar] (isa.east) -- (407,905);
% ecological
\draw[ln] (ae1.south) -- (667.5,255);
\draw[ln] (597,255) -- (741,255);
\draw[dotar] (597,255) -- (597,385) -- (604,385);
\draw[dotar] (741,255) -- (741,385) -- (733,385);
\draw[dotar] (ae3.west) -- (589,239.5) -- (589,463) -- (604,463);
\draw[dotar] (pe11.west) -- (580,480.5) -- (580,635) -- (607,635);
\draw[ln] (773,239.5) -- (773,369) -- (873,369);
\draw[ln] (ae2.east) -| (873,377);
\draw[ar] (ae2.east) -| (903,449) -- (pe4.east);
\draw[ln] (ae4.east) -- (873,263.5);
\draw[ln] (775.5,377) -- (873,377);
\draw[ar] (775.5,377) -- (pe1.north);
\draw[ar] (823.5,377) -- (pe2.north);
\draw[ar] (872.5,377) -- (pe3.north);
\draw[ln] (pe2.south) |- (872.5,425) -- (pe3.south);
\draw[ar] (pe1.south) -- (tb.north);
\draw[ar] (tb.west) -| (se1.north);
\draw[ar] (tb.east) -| (se2.north);
\draw[ar] (tb.south) -- (se3.north);
\draw[ln] (se1.south) -- (737.5,603) -| (se2.south);
\draw[ln] (se3.south) -- (778,603);
\draw[ln] (778,603) -- (778,638);
\draw[ln] (723,638) -- (835,638);
\draw[ar] (835,638) |- (ie10.west);
\draw[ar] (723,638) |- (ie7.east);
\draw[ar] (pe4.west) -- (837,449) |- (se4.west);
\draw[ar] (se4.south) |- (901,653) |- (ie10.east);
\draw[dotar] (pe7.east) -- (669,389) -- (669,502) -- (597,502) -- (597,547) -- (604,547);
\draw[dotar] (pe5.east) -- (737,436) -- (737,547) -- (716,547);
\draw[ar] (gPh2.west) -- (585,567) |- (ie1.west);
\draw[ln] (se7.south) -- (691,668) -- (580,668) -- (580,704);
\draw[dotar] (580,704) |- (593,745);
% economic
\draw[ln] (ac3.south) -- (980,313);
\draw[ln] (ac2.south) -- (1009.5,313);
\draw[ln] (932,313) -- (1009.5,313);
\draw[dotar] (932,313) -- (932,374);
\draw[ar] (ac1.south) -- (953,322) -- (1133,322) |- (pc13.west);
\draw[ar] (1133,389.5) -- (pc8.east);
\draw[ar] (od.west) -- (1025,258.5) |- (pc7.west);
\draw[ln] (ac5.south) |- (1025,330);
\draw[ar] (1025,390.5) |- (sc7.west);
\draw[ar] (1015,447) .. controls (1016,360) and (1020,288) .. (ac5.west);
\draw[ar] (ac4.south) -- (1125.5,228) -| (cs.north);
\draw[ar] (1125.5,228) -| (lit.north);
\draw[ar] (cs.south) -- (od.north);
\draw[ln] (lit.south) -- (1187,250);
\draw[ln] (1143.5,250) -- (1187,250);
\draw[ar] (1143.5,250) -- (mic.north);
\draw[ar] (1187,250) -- (mac.north);
\draw[dotar] (1111,330) -- (1111,305) -- (1119,305);
\draw[ln] (pc13.south) |- (1203.5,415) -- (pc6.south);
\draw[ar] (1179,415) -- (hEm2.north);
\draw[ar] (hEm2.south) -- (sc4.north);
\draw[ar] (pc8.south) -- (1102.5,406) -- (1148,406) -- (1148,510) -- (1126,510) |- (sc8.east);
\draw[ar] (pc1.south) -- (993,488) -- (1003,488) |- (sc2.east);
\draw[ar] (sc3.west) -- (933,561.5) -- (933,801.5) -- (ic4.west);
\draw[ar] (933,719.5) -- (harv.west);
\draw[ln] (sc2.west) -- (933,591);
\draw[ln] (harv.south) -- (966,748);
\draw[ar] (966,748) -- (ic1.east);
\draw[ar] (966,748) -- (ic2.west);
\draw[ar] (966,748) -- (ic3.north);
\draw[ln] (sc8.west) -- (1011,593);
\draw[ar] (1011,593) |- (ic5.west);
\draw[ar] (1011,720) |- (ic6.west);
\draw[ln] (sc2.south) |- (1011,653);
\draw[ar] (sc4.south) |- (1226,630) |- (ic7.east);
\draw[ar] (pc12.east) -- (1118,480) -- (1118,674) -- (1042,674);
% social
\draw[ar] (as1.west) -- (1270,219) |- (1285,386);
\draw[ln] (as5.west) -- (1270,246);
\draw[ln] (as5.south) |- (1463.5,303) -- (as4.south);
\draw[ar] (1373,303) -- (1373,379);
\draw[ar] (pc10.east) -- (1245,438.5) -- (1245,322) -- (1341,322) |- (as3.west);
\draw[ln] (ps1.west) -- (1254,391) -- (1254,635);
\draw[ar] (1254,594.5) -- (ss2.west);
\draw[ar] (1254,635) -- (ss3.west);
\draw[ln] (ps1.south) -- (1306,473);
\draw[ln] (ps2.south) -- (1355.5,473);
\draw[ln] (ps4.south) -- (1433.5,473);
\draw[ln] (ps3.south) -- (1485.5,473);
\draw[ln] (1281,473) -- (1485.5,473);
\draw[ar] (1281,473) -- (1281,538);
\draw[ar] (1355.5,473) -- (1355.5,538);
\draw[ar] (1402,473) |- (ss4.west);
\draw[ln] (ss5.south) -- (1290.5,643);
\draw[ln] (1266,643) -- (1338,643);
\draw[ar] (1266,643) -- (is8.north);
\draw[ar] (1338,643) -- (is9.north);
\draw[ar] (ss1.west) .. controls (1312,610) and (1305,690) .. (is10.north);
\draw[ar] (ss1.east) -| (1436,742.5) -- (is5.east);
\draw[ln] (ss2.east) -- (1436,594.5);
\draw[ln] (ss3.east) -- (1527,635);
\draw[ar] (1454,635) -- (1454,706);
\draw[ar] (1518,635) -- (is2.north);
\draw[ar] (ss4.south) -- (1489,677);
\draw[ar] (1489,695) -- (1489,762);
\draw[ln] (is10.south) -- (1305,790);
\draw[ar] (1305,790) -- (is11.east);
\draw[ar] (1305,790) -- (is12.west);
\draw[ar] (1305,790) -- (is13.north);
\end{pgfonlayer}

% dark markers on connector lines
\mkbus{1093}{322}{0}
\mkbus{1025}{338}{-90}
\mkbus{1203}{433}{0}
\mkbus{1341}{283}{90}
\mkbus{1314}{322}{0}
\mkbus{1245}{359}{90}
\mkbus{1118}{493}{-90}
\mkbus{933}{633}{-90}
\mkbus{1042}{674}{180}
\mkbus{620}{668}{180}
\mkbus{733}{668}{180}
\mkbus{861}{668}{180}
\mkbus{580}{704}{-90}

\fill[arrg, opacity=0.75] (440,203) -- (570,203) -- (570,197) -- (586,212) -- (570,228) -- (570,221) -- (440,221) -- cycle;
\fill[arrg, opacity=0.75] (481,872) rectangle (581,892);
\fill[arrg, opacity=0.85] (55,697) -- (55,577) -- (44,577) -- (68,556) -- (92,577) -- (80,577) -- (80,697) -- cycle;
\end{tikzpicture}
\end{document}
